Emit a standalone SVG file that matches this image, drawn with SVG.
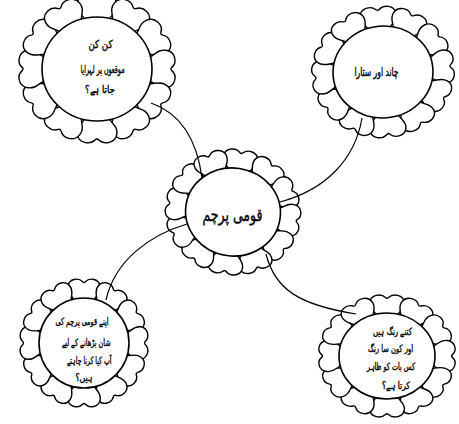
<svg xmlns="http://www.w3.org/2000/svg" xmlns:xlink="http://www.w3.org/1999/xlink" width="459" height="424" viewBox="0 0 459 424">
<style>
.petal{fill:#fff;stroke:#000;stroke-width:1.4;vector-effect:non-scaling-stroke}
.disc{fill:#fff;stroke:#000;stroke-width:1.6;vector-effect:non-scaling-stroke}
.conn{fill:none;stroke:#000;stroke-width:1.2}
.t{font-family:"DejaVu Sans",sans-serif;font-weight:normal;text-anchor:middle;fill:#000;stroke:#000;stroke-width:0.4}
</style>
<defs>
<path id="p" class="petal" d="M -10,3 C -13,-3 -18,-5 -17,-12 C -16,-20 -6,-22 -1.5,-17 C -0.5,-16 0.5,-16 1.5,-17 C 6,-22 16,-20 17,-12 C 18,-5 13,-3 10,3"/>
<g id="flower">
<use xlink:href="#p" transform="rotate(0) translate(0,-50) scale(1.06)"/>
<use xlink:href="#p" transform="rotate(30) translate(0,-50) scale(1.06)"/>
<use xlink:href="#p" transform="rotate(60) translate(0,-50) scale(1.06)"/>
<use xlink:href="#p" transform="rotate(90) translate(0,-50) scale(1.06)"/>
<use xlink:href="#p" transform="rotate(120) translate(0,-50) scale(1.06)"/>
<use xlink:href="#p" transform="rotate(150) translate(0,-50) scale(1.06)"/>
<use xlink:href="#p" transform="rotate(180) translate(0,-50) scale(1.06)"/>
<use xlink:href="#p" transform="rotate(210) translate(0,-50) scale(1.06)"/>
<use xlink:href="#p" transform="rotate(240) translate(0,-50) scale(1.06)"/>
<use xlink:href="#p" transform="rotate(270) translate(0,-50) scale(1.06)"/>
<use xlink:href="#p" transform="rotate(300) translate(0,-50) scale(1.06)"/>
<use xlink:href="#p" transform="rotate(330) translate(0,-50) scale(1.06)"/>
<circle class="disc" r="50"/>
</g>
</defs>
<rect width="459" height="424" fill="#fff"/>
<g id="node-topleft">
<use xlink:href="#flower" transform="translate(97,69) scale(1.1,1.04)"/>
<text class="t" x="100.5" y="48" font-size="11" textLength="24" lengthAdjust="spacingAndGlyphs">کن کن</text>
<text class="t" x="102.5" y="73" font-size="11" textLength="44" lengthAdjust="spacingAndGlyphs">موقعوں پر لہرایا</text>
<text class="t" x="100" y="93" font-size="11" textLength="30" lengthAdjust="spacingAndGlyphs">جاتا ہے؟</text>
</g>
<g id="node-topright">
<use xlink:href="#flower" transform="translate(383,72) rotate(-5) scale(1,0.92)"/>
<text class="t" x="376.5" y="76" font-size="12" textLength="44" lengthAdjust="spacingAndGlyphs">چاند اور ستارا</text>
</g>
<g id="node-center">
<use xlink:href="#flower" transform="translate(233,212) rotate(8) scale(0.95,0.88)"/>
<text class="t" x="232.5" y="221" font-size="18" textLength="60" lengthAdjust="spacingAndGlyphs">قومی پرچم</text>
</g>
<g id="node-bottomleft">
<use xlink:href="#flower" transform="translate(84,343) scale(0.9,0.9)"/>
<text class="t" x="82" y="325" font-size="10" textLength="53" lengthAdjust="spacingAndGlyphs">اپنے قومی پرچم کی</text>
<text class="t" x="86" y="346" font-size="10" textLength="49" lengthAdjust="spacingAndGlyphs">شان بڑھانے کے لیے</text>
<text class="t" x="89" y="364" font-size="10" textLength="45" lengthAdjust="spacingAndGlyphs">آپ کیا کرنا چاہتے</text>
<text class="t" x="84" y="381" font-size="10" textLength="17" lengthAdjust="spacingAndGlyphs">ہیں؟</text>
</g>
<g id="node-bottomright">
<use xlink:href="#flower" transform="translate(387,356) scale(0.96,0.86)"/>
<text class="t" x="392.5" y="335" font-size="10" textLength="39" lengthAdjust="spacingAndGlyphs">کتنے رنگ ہیں</text>
<text class="t" x="390.5" y="352" font-size="10" textLength="45" lengthAdjust="spacingAndGlyphs">اور کون سا رنگ</text>
<text class="t" x="391" y="370" font-size="10" textLength="48" lengthAdjust="spacingAndGlyphs">کس بات کو ظاہر</text>
<text class="t" x="396" y="389" font-size="10" textLength="28" lengthAdjust="spacingAndGlyphs">کرتا ہے؟</text>
</g>
<g id="connectors">
<path class="conn" d="M 151,103 Q 194,118 202,178"/>
<path class="conn" d="M 280,202 C 325,190 355,160 362,118"/>
<path class="conn" d="M 187,224 C 150,235 115,260 106,300"/>
<path class="conn" d="M 266,254 C 275,290 300,305 356,314"/>
</g>
</svg>
